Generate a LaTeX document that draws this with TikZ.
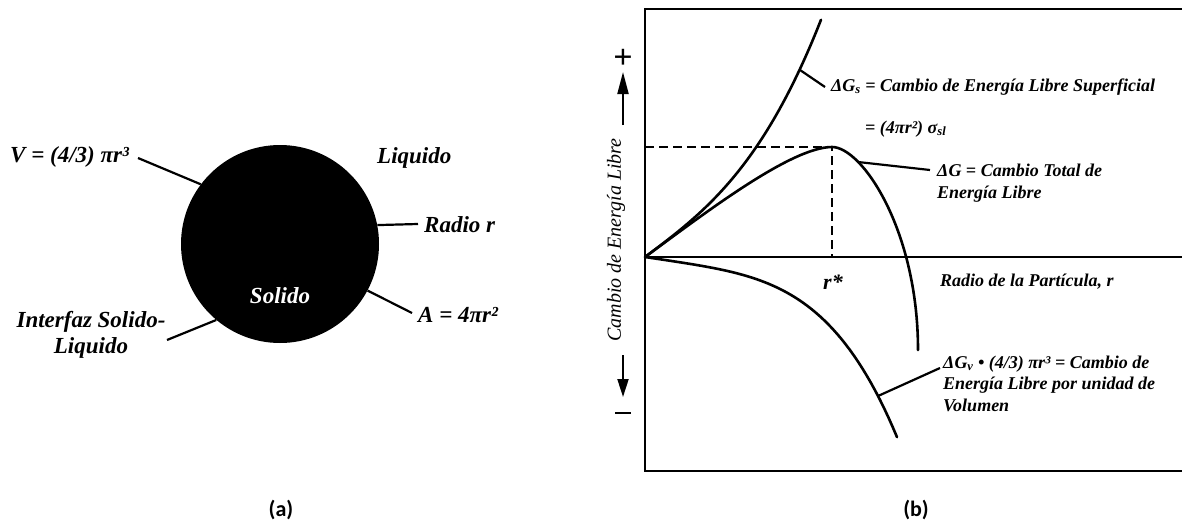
\documentclass[tikz,border=0pt]{standalone}
\usepackage{fontspec}
\setmainfont{Liberation Serif}
\newfontfamily\capfont{Carlito}
\newfontfamily\yfont{Liberation Serif}
\usetikzlibrary{arrows.meta}
\tikzset{
  biglbl/.style={inner sep=0pt, font=\fontsize{23}{27}\selectfont\bfseries\itshape},
  smalllbl/.style={inner sep=0pt, font=\fontsize{18}{21}\selectfont\bfseries\itshape},
  pointer/.style={line width=2.2pt},
  curveline/.style={line width=2.6pt, line cap=round, line join=round},
  dashline/.style={line width=1.5pt, dash pattern=on 9pt off 5pt},
  caption/.style={inner sep=0pt, font=\fontsize{22}{26}\selectfont\capfont\bfseries},
}
\begin{document}
\begin{tikzpicture}[x=1pt,y=-1pt]
\useasboundingbox (0,0) rectangle (1182,527);
% ---------------- panel (a) ----------------
\node[circle, fill=black, minimum size=198pt, inner sep=0pt] (c) at (280,244) {};
\node[biglbl, text=white] (sol) at (280,296) {Solido};
\node[biglbl, anchor=base west] (vlab) at (10,162) {V = (4/3) πr³};
\coordinate (vend) at (138,158);
\draw[pointer] (vend) -- (c.143.6);
\node[biglbl, anchor=base west] (liq) at (377,163) {Liquido};
\node[biglbl, anchor=base west] (rad) at (424,232) {Radio r};
\coordinate (rend) at (418,224);
\draw[pointer] (c.11.6) -- (rend);
\node[biglbl, anchor=base west] (area) at (418,322) {A = 4πr²};
\coordinate (aend) at (412,313);
\draw[pointer] (c.-28.6) -- (aend);
\node[biglbl, anchor=base] (int1) at (91,327) {Interfaz Solido-};
\node[biglbl, anchor=base] (int2) at (91,353) {Liquido};
\coordinate (iend) at (167,340);
\draw[pointer] (iend) -- (c.230.2);
\node[caption] (capa) at (281,510) {(a)};
% ---------------- panel (b) ----------------
\draw[line width=2pt] (1190,9) -- (645,9) -- (645,471) -- (1190,471);
\coordinate (o) at (645,257);
\coordinate (xend) at (1190,257);
\draw[line width=1.6pt] (o) -- (xend);
% dashed guides
\coordinate (peak) at (832,147);
\coordinate (peakl) at (645,147);
\coordinate (peakb) at (832,257);
\draw[dashline] (peakl) -- (peak) -- (peakb);
% curves
\draw[curveline] plot[domain=0:176, samples=60] ({645+\x},{257-0.75*\x-19.3*(\x/100)^3});
\draw[curveline] (o) .. controls (700,217) and (790,147) .. (peak)
                     .. controls (862,147) and (918,230) .. (918,350);
\draw[curveline] plot[domain=0:252, samples=60] ({645+\x},{257+0.15*\x+3.53*(\x/100)^4});
% labels and pointers
\coordinate (gsp) at (800,70);
\coordinate (gse) at (825,87);
\draw[pointer] (gsp) -- (gse);
\node[smalllbl, anchor=base west] (gslab) at (831,91) {ΔG\textsubscript{s} = Cambio de Energía Libre Superficial};
\node[smalllbl, anchor=base west] (gslab2) at (865,133) {= (4πr²) σ\textsubscript{sl}};
\coordinate (gp) at (858,162);
\coordinate (ge) at (930,170);
\draw[pointer] (gp) -- (ge);
\node[smalllbl, anchor=base west] (glab1) at (937,176) {ΔG = Cambio Total de};
\node[smalllbl, anchor=base west] (glab2) at (937,198) {Energía Libre};
\node[inner sep=0pt, anchor=base, font=\fontsize{22}{24}\selectfont\bfseries\itshape] (rstar) at (833,289) {r*};
\node[smalllbl, anchor=base west] (xlab) at (940,286) {Radio de la Partícula, r};
\coordinate (gvp) at (878,396);
\coordinate (gve) at (940,368);
\draw[pointer] (gvp) -- (gve);
\node[smalllbl, anchor=base west] (gvlab1) at (943,368) {ΔG\textsubscript{v} • (4/3) πr³ = Cambio de};
\node[smalllbl, anchor=base west] (gvlab2) at (943,389) {Energía Libre por unidad de};
\node[smalllbl, anchor=base west] (gvlab3) at (943,411) {Volumen};
% vertical axis label and arrows
\node[inner sep=0pt, rotate=90, font=\fontsize{20}{24}\selectfont\yfont\itshape] (ylab) at (616,240) {Cambio de Energía Libre};
\coordinate (ua) at (623,125);
\coordinate (ub) at (623,72);
\draw[line width=2pt, -{Triangle[length=22pt,width=11pt]}] (ua) -- (ub);
\node[inner sep=0pt, font=\fontsize{34}{36}\selectfont\bfseries] (plus) at (623,59) {+};
\coordinate (da) at (623,355);
\coordinate (db) at (623,397);
\draw[line width=2pt, -{Triangle[length=18pt,width=11pt]}] (da) -- (db);
\coordinate (ma) at (615,413);
\coordinate (mb) at (631,413);
\draw[line width=2pt] (ma) -- (mb);
\node[caption] (capb) at (916,510) {(b)};
\end{tikzpicture}
\end{document}
